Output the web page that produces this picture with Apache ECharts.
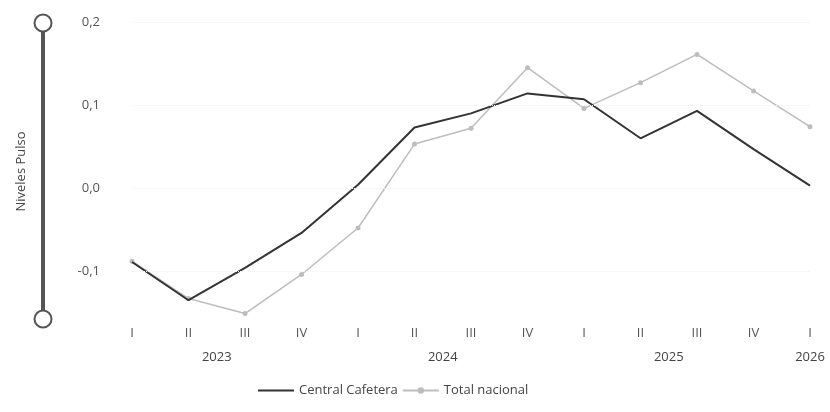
<!DOCTYPE html>
<html>
<head>
<meta charset="utf-8">
<script src="https://cdn.jsdelivr.net/npm/echarts@6/dist/echarts.min.js"></script>
<style>
  html, body { margin: 0; padding: 0; background: #fff; }
  #main { width: 830px; height: 412px; }
</style>
</head>
<body>
<div id="main"></div>
<script>
// categorías (trimestres) y años
const quarters = ["I", "II", "III", "IV", "I", "II", "III", "IV", "I", "II", "III", "IV", "I"];
const years = ["2023", "2024", "2025", "2026"];
const quartersPerYear = [4, 4, 4, 1];
const yTicks = [-0.1, 0, 0.1, 0.2];

// series
const centralCafetera = [-0.089, -0.135, -0.096, -0.054, 0.004, 0.073, 0.090, 0.114, 0.107, 0.060, 0.093, 0.047, 0.003];
const totalNacional = [-0.088, -0.133, -0.151, -0.104, -0.048, 0.053, 0.072, 0.145, 0.096, 0.127, 0.161, 0.117, 0.074];

const fontFamily = "'Open Sans', 'Noto Sans', sans-serif";
const fmt = (v) => v.toFixed(1).replace(".", ",");

// posición central de cada año sobre el eje de trimestres
const yearCenters = [];
let start = 0;
quartersPerYear.forEach((n) => {
  yearCenters.push(start + (n - 1) / 2);
  start += n;
});

const mChart = echarts.init(document.getElementById("main"));

const option = {
  animation: false,
  backgroundColor: "#fff",
  textStyle: { fontFamily: fontFamily },
  grid: { left: 132, right: 20, top: 22, bottom: 91 },
  legend: {
    left: 252,
    top: 379,
    itemWidth: 36,
    itemHeight: 8,
    itemGap: 4,
    textStyle: { color: "#444", fontSize: 13, fontFamily: fontFamily },
    data: [
      { name: "Central Cafetera", itemStyle: { opacity: 0 } },
      { name: "Total nacional" },
    ],
  },
  xAxis: [
    {
      type: "category",
      data: quarters,
      boundaryGap: false,
      axisLine: { show: false },
      axisTick: { show: false },
      axisLabel: { color: "#555", fontSize: 13, margin: 6, interval: 0 },
    },
    {
      type: "value",
      min: 0,
      max: quarters.length - 1,
      interval: 0.5,
      position: "bottom",
      offset: 22,
      axisLine: { show: false },
      axisTick: { show: false },
      splitLine: { show: false },
      axisLabel: {
        color: "#444",
        fontSize: 13,
        showMinLabel: true,
        showMaxLabel: true,
        formatter: (v) => {
          const i = yearCenters.findIndex((c) => Math.abs(c - v) < 1e-6);
          return i >= 0 ? years[i] : "";
        },
      },
    },
  ],
  yAxis: {
    type: "value",
    min: -0.16,
    max: 0.2,
    interval: 0.02,
    name: "Niveles Pulso",
    nameLocation: "middle",
    nameGap: 104,
    nameTextStyle: { color: "#444", fontSize: 13 },
    axisLine: { show: false },
    axisTick: { show: false },
    splitLine: { show: false },
    axisLabel: {
      color: "#555",
      fontSize: 13,
      margin: 32,
      formatter: (v) => {
        const hit = yTicks.some((t) => Math.abs(t - v) < 1e-6);
        return hit ? fmt(v) : "";
      },
    },
  },
  dataZoom: [
    {
      type: "slider",
      yAxisIndex: 0,
      left: 40,
      width: 4,
      top: 22,
      bottom: 92,
      start: 0,
      end: 100,
      filterMode: "none",
      showDetail: false,
      showDataShadow: false,
      brushSelect: false,
      zoomLock: true,
      moveHandleSize: 0,
      backgroundColor: "#555",
      borderColor: "#555",
      fillerColor: "#555",
      handleIcon: "circle",
      handleSize: 17,
      handleStyle: { color: "#fff", borderColor: "#555", borderWidth: 2 },
      dataBackground: { lineStyle: { opacity: 0 }, areaStyle: { opacity: 0 } },
    },
  ],
  series: [
    {
      name: "Central Cafetera",
      type: "line",
      data: centralCafetera,
      symbol: "none",
      lineStyle: { color: "#333", width: 2 },
      itemStyle: { color: "#333" },
      z: 3,
    },
    {
      name: "Total nacional",
      type: "line",
      data: totalNacional,
      symbol: "circle",
      symbolSize: 5,
      lineStyle: { color: "#bdbdbd", width: 1.5 },
      itemStyle: { color: "#bdbdbd" },
      z: 2,
      markLine: {
        silent: true,
        symbol: "none",
        label: { show: false },
        lineStyle: { color: "#f0f0f0", type: "dotted", width: 1 },
        data: yTicks.map((t) => ({ yAxis: t })),
      },
    },
  ],
};

mChart.setOption(option);
</script>
</body>
</html>
